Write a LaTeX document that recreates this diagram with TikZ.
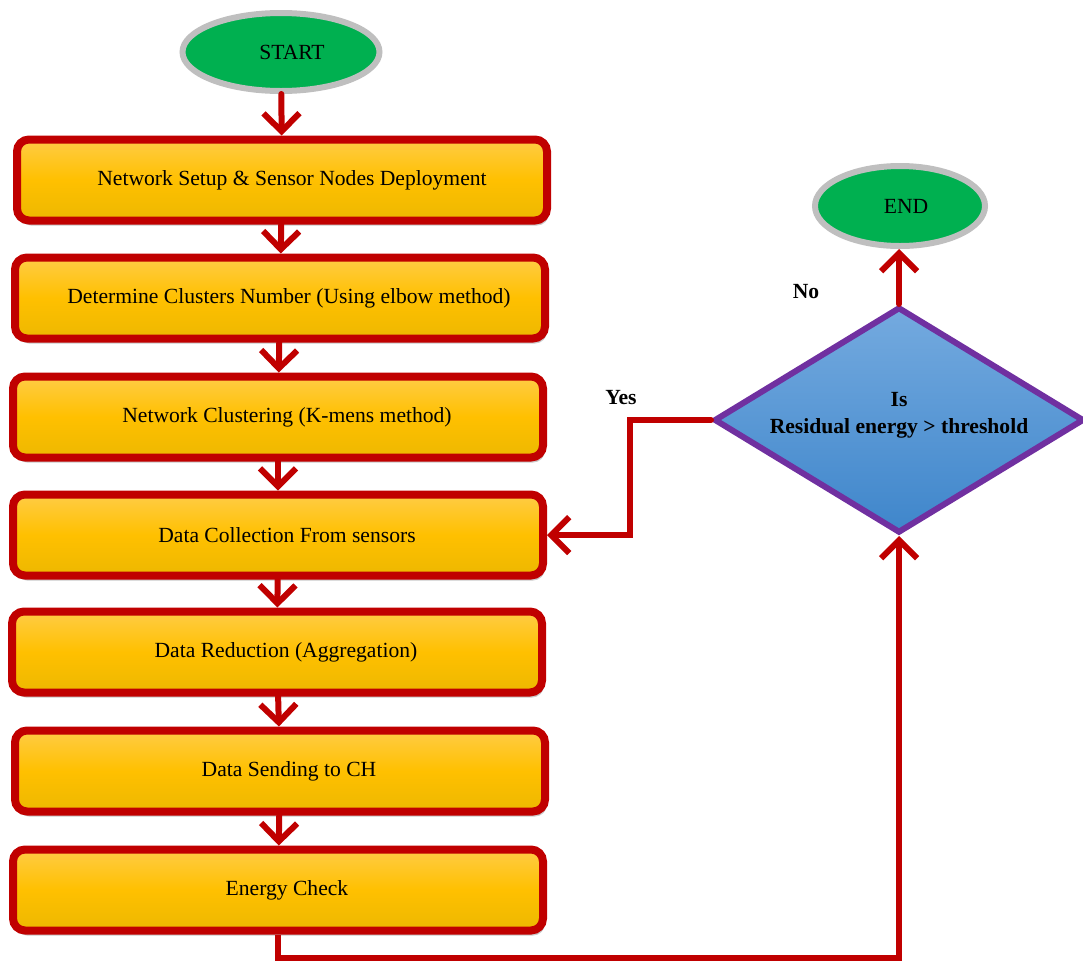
\documentclass[tikz,border=0pt]{standalone}
\usepackage{fontspec}
\setmainfont{Liberation Serif}
\usetikzlibrary{arrows.meta,shapes.geometric,shadows}
\definecolor{boxred}{HTML}{C00000}
\definecolor{ytop}{HTML}{FFCC45}
\definecolor{ymid}{HTML}{FFC000}
\definecolor{ybot}{HTML}{EDB800}
\definecolor{termgreen}{HTML}{00B050}
\definecolor{termgray}{HTML}{BFBFBF}
\definecolor{dpurple}{HTML}{7030A0}
\definecolor{dtop}{HTML}{74AADF}
\definecolor{dbot}{HTML}{3F86CB}
\tikzset{
  stepbox/.style={draw=boxred, line width=8pt, rounded corners=12pt,
    top color=ytop, bottom color=ybot, middle color=ymid,
    minimum width=530pt, minimum height=81pt, inner sep=0pt,
    font=\fontsize{21.6}{26}\selectfont,
    drop shadow={shadow xshift=2pt, shadow yshift=-5pt, opacity=0.35, fill=black!60}},
  term/.style={ellipse, draw=termgray, line width=6pt, fill=termgreen,
    minimum width=197pt, minimum height=78pt, inner sep=0pt,
    font=\fontsize{21.6}{26}\selectfont},
  decision/.style={diamond, draw=dpurple, line width=6pt, top color=dtop, bottom color=dbot,
    minimum width=370pt, minimum height=226pt, aspect=1.64, inner sep=0pt,
    font=\bfseries\fontsize{21.6}{27}\selectfont, align=center},
  flow/.style={draw=boxred, line width=6pt, line cap=round,
    -{Straight Barb[length=18pt,width=36pt,line width=6pt]}},
  lbl/.style={font=\bfseries\fontsize{21.6}{26}\selectfont, inner sep=0pt}
}
\begin{document}
\begin{tikzpicture}[x=1pt,y=-1pt]
\useasboundingbox (0,0) rectangle (1083,962);
\node[term] (start) at (281,52) {\hspace*{22pt}START};
\node[stepbox] (b1) at (282,180) {\hspace*{20pt}Network Setup \& Sensor Nodes Deployment};
\node[stepbox] (b2) at (280,298) {\hspace*{18pt}Determine Clusters Number (Using elbow method)};
\node[stepbox] (b3) at (278,417) {\hspace*{18pt}Network Clustering (K-mens method)};
\node[stepbox] (b4) at (278,535) {\hspace*{18pt}Data Collection From sensors};
\node[stepbox] (b5) at (277,652) {\hspace*{18pt}Data Reduction (Aggregation)};
\node[stepbox] (b6) at (280,771) {\hspace*{18pt}Data Sending to CH};
\node[stepbox] (b7) at (278,890) {\hspace*{18pt}Energy Check};
\node[term, minimum width=170pt, minimum height=80pt] (end) at (900,206) {\hspace*{12pt}END};
\node[decision] (d) at (899,420) {Is\\Residual energy > threshold\\[-13pt]\mbox{}};
\node[lbl] (yes) at (621,398) {Yes};
\node[lbl] (no) at (806,292) {No};
\coordinate (yc) at (630,420);
\coordinate (bc) at (899,958);
\draw[flow] (start) -- (b1);
\draw[flow] (b1) -- (b2);
\draw[flow] (b2) -- (b3);
\draw[flow] (b3) -- (b4);
\draw[flow] (b4) -- (b5);
\draw[flow] (b5) -- (b6);
\draw[flow] (b6) -- (b7);
\draw[flow] (d.north) -- (d.north |- end.south);
\draw[flow] (d.west) -- (yc) |- (b4.east);
\draw[flow, line cap=butt] (b7.south) |- (bc) -- (d.south);
\end{tikzpicture}
\end{document}
